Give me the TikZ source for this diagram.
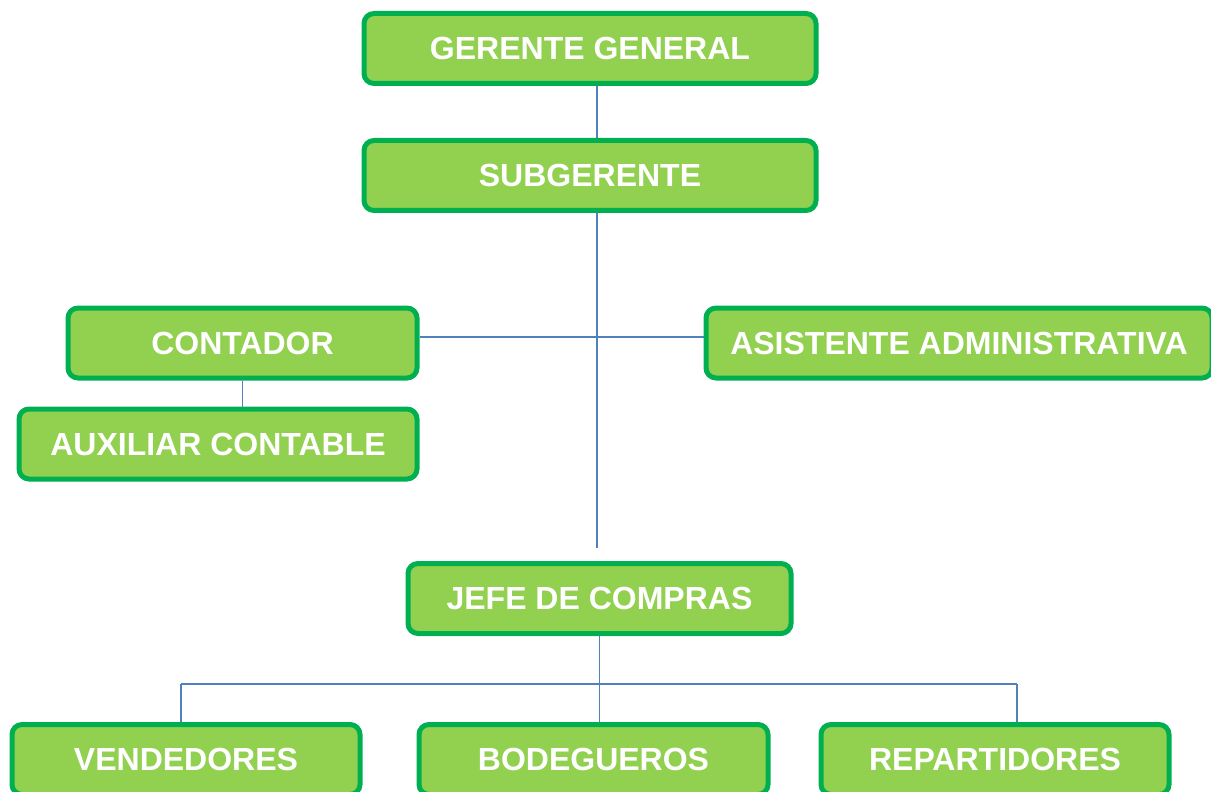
\documentclass[tikz,border=0pt]{standalone}
\usepackage{fontspec}
\setmainfont{Liberation Sans}
\definecolor{verde_f}{HTML}{92D050}
\definecolor{verde_b}{HTML}{00B050}
\definecolor{azul_l}{HTML}{4F81BD}
\tikzset{
	orgnode/.style = {align=center, inner sep=0pt, text centered,
		font=\bfseries\fontsize{16}{19}\selectfont},
	org_box/.style = {orgnode, rectangle, rounded corners=5pt, text=white,
		draw=verde_b, fill=verde_f, line width=2.5pt, minimum height=35pt},
	org_ln/.style = {draw=azul_l, line width=0.8pt}
}
\begin{document}
\begin{tikzpicture}[x=0.5pt,y=-0.5pt]
\useasboundingbox (0,0) rectangle (1211,792);
\node [org_box, minimum width=226pt] (gg) at (590,48.5) {GERENTE GENERAL};
\node [org_box, minimum width=226pt] (sub) at (590,175.5) {SUBGERENTE};
\node [org_box, minimum width=174.5pt] (cont) at (242.5,343) {CONTADOR};
\node [org_box, minimum width=253pt] (asis) at (959,343) {ASISTENTE ADMINISTRATIVA};
\node [org_box, minimum width=199pt] (aux) at (218,444) {AUXILIAR CONTABLE};
\node [org_box, minimum width=191.5pt] (jefe) at (599.5,598.5) {JEFE DE COMPRAS};
\node [org_box, minimum width=174pt] (vend) at (186,759.5) {VENDEDORES};
\node [org_box, minimum width=174.5pt] (bode) at (593.5,759.5) {BODEGUEROS};
\node [org_box, minimum width=174pt] (repa) at (995,759.5) {REPARTIDORES};
% puntos libres de las lineas
\coordinate (eje) at (597,548);
\coordinate (nivel) at (0,337);
\coordinate (bus_l) at (181,684);
\coordinate (bus_r) at (1017,684);
\draw [org_ln] (gg.south -| eje) -- (sub.north -| eje);
\draw [org_ln] (sub.south -| eje) -- (eje);
\draw [org_ln] (cont.east |- nivel) -- (asis.west |- nivel);
\draw [org_ln] (cont.south) -- (aux.north -| cont.south);
\draw [org_ln] (jefe.south) -- (bode.north -| jefe.south);
\draw [org_ln] (bus_l) -- (bus_r);
\draw [org_ln] (bus_l) -- (vend.north -| bus_l);
\draw [org_ln] (bus_r) -- (repa.north -| bus_r);
\end{tikzpicture}
\end{document}
